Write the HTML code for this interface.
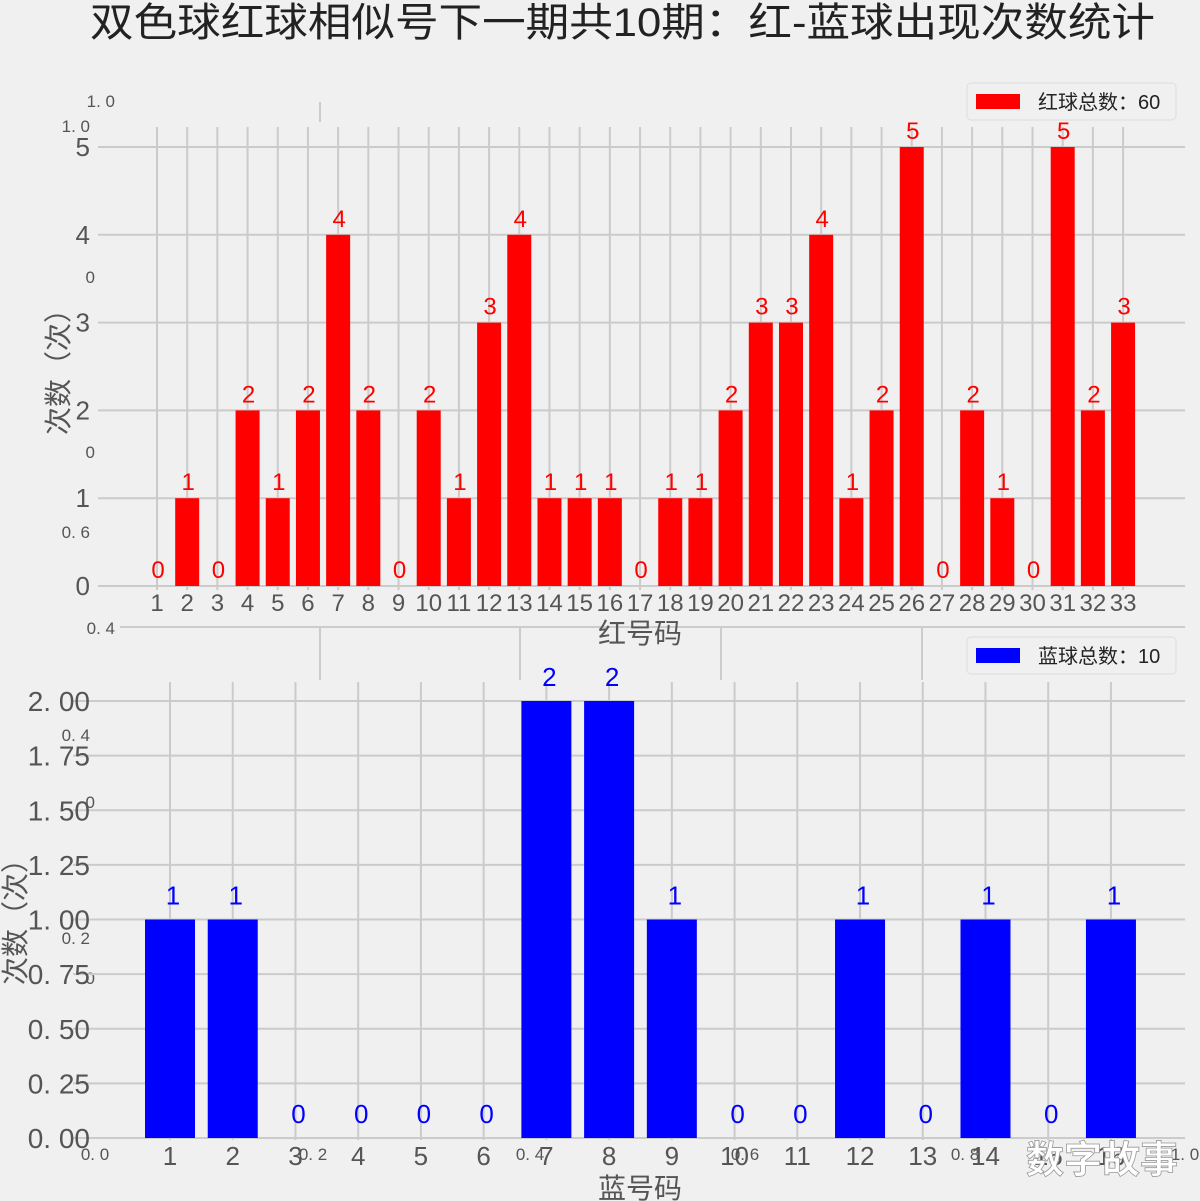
<!DOCTYPE html>
<html><head><meta charset="utf-8"><style>
body{margin:0;background:#f0f0f0}
svg{display:block;font-family:"Liberation Sans","Noto Sans CJK SC",sans-serif}
</style></head><body>
<svg id="c" width="1200" height="1201" xmlns="http://www.w3.org/2000/svg">
<rect width="1200" height="1201" fill="#f0f0f0"/>
<text x="90" y="36" font-size="40" textLength="1065" lengthAdjust="spacingAndGlyphs" fill="#222">双色球红球相似号下一期共10期：红-蓝球出现次数统计</text>
<g id="bg" fill="#555" font-size="17">
<line x1="320" y1="102" x2="320" y2="122" stroke="#ccc" stroke-width="2"/>
<line x1="120" y1="627" x2="1185" y2="627" stroke="#ccc" stroke-width="2"/>
<line x1="320" y1="627" x2="320" y2="680" stroke="#ccc" stroke-width="2"/>
<line x1="520" y1="627" x2="520" y2="680" stroke="#ccc" stroke-width="2"/>
<line x1="721" y1="627" x2="721" y2="680" stroke="#ccc" stroke-width="2"/>
<line x1="922" y1="627" x2="922" y2="680" stroke="#ccc" stroke-width="2"/>
<text x="115" y="107" text-anchor="end">1. 0</text>
<text x="90" y="132" text-anchor="end">1. 0</text>
<text x="95" y="283" text-anchor="end">0</text>
<text x="95" y="458" text-anchor="end">0</text>
<text x="90" y="538" text-anchor="end">0. 6</text>
<text x="115" y="634" text-anchor="end">0. 4</text>
<text x="90" y="741" text-anchor="end">0. 4</text>
<text x="95" y="808" text-anchor="end">0</text>
<text x="90" y="944" text-anchor="end">0. 2</text>
<text x="95" y="984" text-anchor="end">0</text>
<text x="95" y="1160" text-anchor="middle">0. 0</text>
<text x="313" y="1160" text-anchor="middle">0. 2</text>
<text x="530" y="1160" text-anchor="middle">0. 4</text>
<text x="745" y="1160" text-anchor="middle">0. 6</text>
<text x="965" y="1160" text-anchor="middle">0. 8</text>
<text x="1185" y="1160" text-anchor="middle">1. 0</text>
</g>
<g id="topg"></g>
<g id="botg"></g>
<g>
<rect x="967" y="83" width="209" height="37" rx="4" fill="#f0f0f0" stroke="#ddd"/>
<rect x="976" y="94" width="44" height="15" fill="#ff0000"/>
<text x="1038" y="109" font-size="20" fill="#222">红球总数：60</text>
</g>
<g>
<rect x="967" y="637" width="209" height="37" rx="4" fill="#f0f0f0" stroke="#ddd"/>
<rect x="976" y="648" width="44" height="15" fill="#0000ff"/>
<text x="1038" y="663" font-size="20" fill="#222">蓝球总数：10</text>
</g>
<text x="640" y="643" font-size="28" text-anchor="middle" fill="#555">红号码</text>
<text x="640" y="1198" font-size="28" text-anchor="middle" fill="#555">蓝号码</text>
<text transform="translate(68,365) rotate(-90)" font-size="28" text-anchor="middle" fill="#555">次数（次）</text>
<text transform="translate(25,915) rotate(-90)" font-size="28" text-anchor="middle" fill="#555">次数（次）</text>
<text x="1102" y="1173" font-size="38" font-weight="bold" text-anchor="middle" fill="#fff" stroke="#999" stroke-width="0.8">数字故事</text>
</svg>
<script>
const redCats=["1","2","3","4","5","6","7","8","9","10","11","12","13","14","15","16","17","18","19","20","21","22","23","24","25","26","27","28","29","30","31","32","33"];
const redVals=[0,1,0,2,1,2,4,2,0,2,1,3,4,1,1,1,0,1,1,2,3,3,4,1,2,5,0,2,1,0,5,2,3];
const redTicks=[0,1,2,3,4,5];
const blueCats=["1","2","3","4","5","6","7","8","9","10","11","12","13","14","15","16"];
const blueVals=[1,1,0,0,0,0,2,2,1,0,0,1,0,1,0,1];
const blueTicks=["0.00","0.25","0.50","0.75","1.00","1.25","1.50","1.75","2.00"];
const NS="http://www.w3.org/2000/svg";
function mk(p,t,a,txt){const e=document.createElementNS(NS,t);for(const k in a)e.setAttribute(k,a[k]);if(txt!==undefined)e.textContent=txt;p.appendChild(e);return e;}
const topG=document.getElementById('topg');
const tx=i=>157+i*30.19, ty=v=>586-v*87.8;
redTicks.forEach(v=>{
 const l=mk(topG,'line',{x1:98,x2:1185,y1:ty(v),y2:ty(v),stroke:'#cbcbcb','stroke-width':2});
 
 
 const t=mk(topG,'text',{x:90,y:ty(v)+9,'font-size':26,'text-anchor':'end',fill:'#555'},String(v));
 
 
});
redCats.forEach((c,i)=>{
 const l=mk(topG,'line',{x1:tx(i),x2:tx(i),y1:127,y2:590,stroke:'#cbcbcb','stroke-width':2});
 
 
});
redCats.forEach((c,i)=>{
 const v=redVals[i];
 if(v>0){const r=mk(topG,'rect',{x:tx(i)-12,y:ty(v),width:24,height:ty(0)-ty(v),fill:'#ff0000'});
 
 }
 const t=mk(topG,'text',{x:tx(i)+1,y:ty(v)-8,'font-size':24,'text-anchor':'middle',fill:'#ff0000'},String(v));
 
 
 const k=mk(topG,'text',{x:tx(i),y:611,'font-size':24,'text-anchor':'middle',fill:'#555'},c);
 
 
});
const botG=document.getElementById('botg');
const bx=i=>170+i*62.73, by=v=>1138-v*218.5;
blueTicks.forEach(s=>{
 const v=parseFloat(s);
 const l=mk(botG,'line',{x1:73,x2:1185,y1:by(v),y2:by(v),stroke:'#cbcbcb','stroke-width':2});
 
 
 const t=mk(botG,'text',{x:90,y:by(v)+10,'font-size':28,'text-anchor':'end',fill:'#555'},s.replace('.','. '));
 
 
});
blueCats.forEach((c,i)=>{
 const l=mk(botG,'line',{x1:bx(i),x2:bx(i),y1:682,y2:1140,stroke:'#cbcbcb','stroke-width':2});
 
 
});
blueCats.forEach((c,i)=>{
 const v=blueVals[i];
 if(v>0){const r=mk(botG,'rect',{x:bx(i)-25,y:by(v),width:50,height:by(0)-by(v),fill:'#0000ff'});
 
 }
 const t=mk(botG,'text',{x:bx(i)+3,y:by(v)-15,'font-size':26,'text-anchor':'middle',fill:'#0000ff'},String(v));
 
 
 const k=mk(botG,'text',{x:bx(i),y:1165,'font-size':26,'text-anchor':'middle',fill:'#555'},c);
 
 
});
</script>
</body></html>
